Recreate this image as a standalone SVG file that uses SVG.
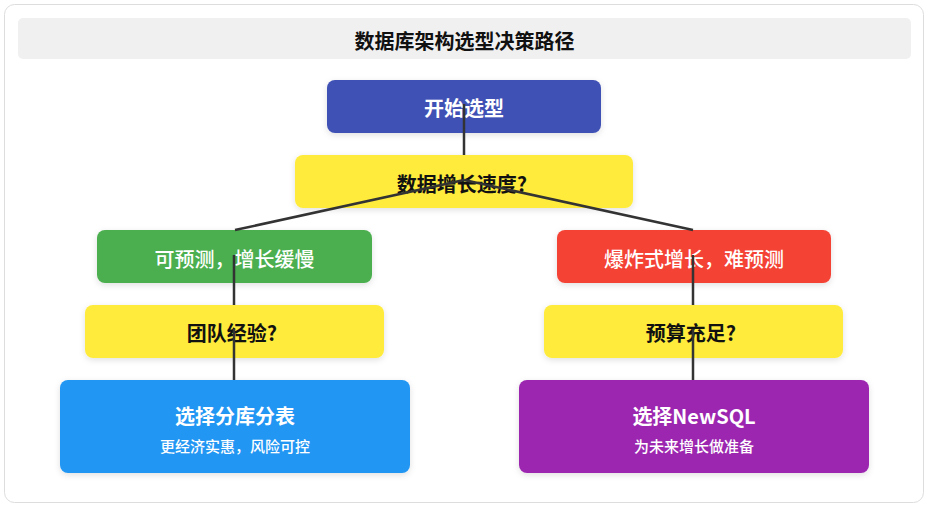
<svg xmlns="http://www.w3.org/2000/svg" width="931" height="510" viewBox="0 0 931 510">
<style>
text{font-family:"Noto Sans CJK SC","Noto Sans",sans-serif;text-anchor:middle;dominant-baseline:central}
.t{font-size:20px;font-weight:bold}
.w{fill:#fff}
.k{fill:#111}
.n{font-size:20px;font-weight:500}
.s{font-size:15px;font-weight:500;fill:#fff}
.box{filter:url(#sh)}
.ln{stroke:#333;stroke-width:2.5;fill:none}
</style>
<defs>
<filter id="sh" x="-10%" y="-20%" width="120%" height="150%">
<feDropShadow dx="0" dy="2" stdDeviation="3" flood-color="#000" flood-opacity="0.12"/>
</filter>
</defs>
<rect x="0" y="0" width="931" height="510" fill="#fff"/>
<rect x="4.5" y="4.5" width="919" height="498" rx="10" fill="#fff" stroke="#ddd"/>
<g id="title">
<rect x="18" y="18" width="893" height="41" rx="5" fill="#f0f0f0"/>
<text class="t k" x="464.5" y="40">数据库架构选型决策路径</text>
</g>
<g id="start">
<rect class="box" x="327" y="80" width="274" height="53" rx="8" fill="#3f51b5"/>
<text class="t w" x="464" y="107">开始选型</text>
</g>
<g id="q1">
<rect class="box" x="295" y="155" width="338" height="53" rx="8" fill="#ffeb3b"/>
<text class="t k" x="462" y="183">数据增长速度?</text>
</g>
<g id="slow">
<rect class="box" x="97" y="230" width="275" height="53" rx="8" fill="#4caf50"/>
<text class="n w" x="234.5" y="258">可预测，增长缓慢</text>
</g>
<g id="fast">
<rect class="box" x="557" y="230" width="274" height="53" rx="8" fill="#f44336"/>
<text class="n w" x="694" y="258">爆炸式增长，难预测</text>
</g>
<g id="q2">
<rect class="box" x="85" y="305" width="299" height="53" rx="8" fill="#ffeb3b"/>
<text class="t k" x="232" y="332">团队经验?</text>
</g>
<g id="q3">
<rect class="box" x="544" y="305" width="299" height="53" rx="8" fill="#ffeb3b"/>
<text class="t k" x="691" y="332">预算充足?</text>
</g>
<g id="shard">
<rect class="box" x="60" y="380" width="350" height="93" rx="8" fill="#2196f3"/>
<text class="t w" x="235" y="415">选择分库分表</text>
<text class="s" x="235" y="445">更经济实惠，风险可控</text>
</g>
<g id="newsql">
<rect class="box" x="519" y="380" width="350" height="93" rx="8" fill="#9c27b0"/>
<text class="t w" x="694" y="415">选择NewSQL</text>
<text class="s" x="694" y="445">为未来增长做准备</text>
</g>
<g id="connectors">
<line class="ln" x1="464" y1="104" x2="464" y2="155"/>
<line class="ln" x1="464" y1="180" x2="235" y2="230"/>
<line class="ln" x1="464" y1="180" x2="693" y2="230"/>
<line class="ln" x1="234" y1="255" x2="234" y2="305"/>
<line class="ln" x1="234" y1="329" x2="234" y2="380"/>
<line class="ln" x1="693" y1="255" x2="693" y2="305"/>
<line class="ln" x1="693" y1="329" x2="693" y2="380"/>
</g>
</svg>
